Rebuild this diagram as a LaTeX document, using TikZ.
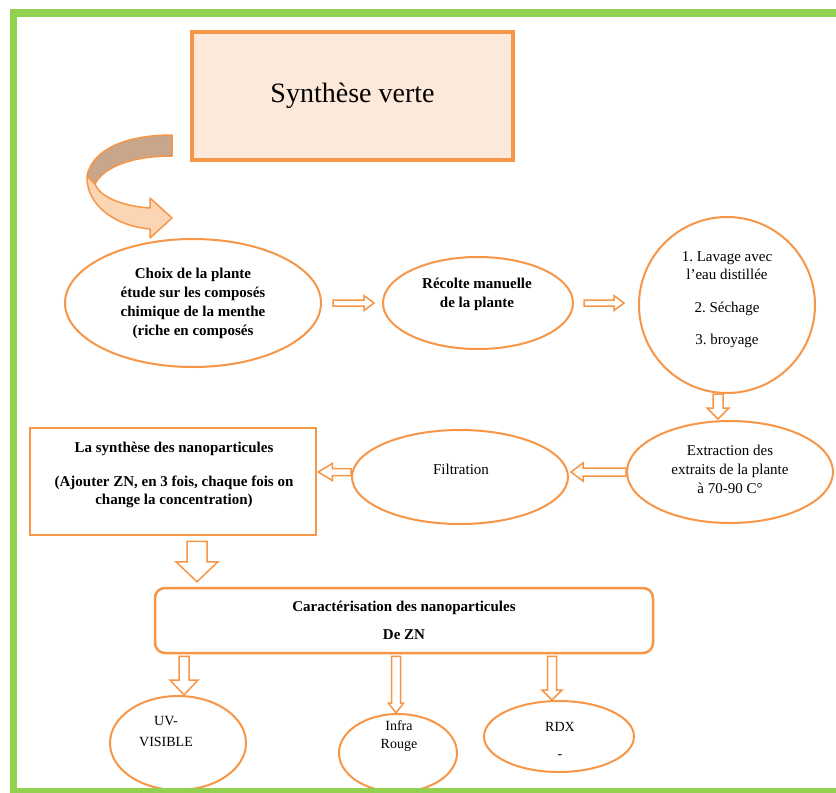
\documentclass[tikz,border=0pt]{standalone}
\usepackage{fontspec}
\setmainfont{Liberation Serif}
\usetikzlibrary{shapes.geometric,calc}
\definecolor{org}{HTML}{F79646}
\definecolor{grn}{HTML}{92D050}
\definecolor{peach}{HTML}{FDE9D9}
\definecolor{arrdark}{HTML}{C8A68B}
\definecolor{arrlight}{HTML}{FCD5B5}
\frenchspacing
\begin{document}
\begin{tikzpicture}[x=1pt,y=-1pt,
  ell/.style={ellipse, draw=org, line width=2pt, inner sep=0pt},
  bt/.style={font=\bfseries\fontsize{15}{19}\selectfont, align=center, inner sep=0pt},
  nt/.style={font=\fontsize{15}{19}\selectfont, align=center, inner sep=0pt},
  st/.style={font=\fontsize{14}{19}\selectfont, align=center, inner sep=0pt},
  blk/.style n args={3}{draw=org, line width=1.5pt, fill=white, line join=miter,
    to path={let \p1=(\tikztostart), \p2=(\tikztotarget),
      \n1={atan2(\y2-\y1,\x2-\x1)}, \n2={veclen(\x2-\x1,\y2-\y1)} in
      ([shift={(\p1)},rotate=\n1]0pt,#1pt) --
      ([shift={(\p1)},rotate=\n1]{\n2-#3pt},#1pt) --
      ([shift={(\p1)},rotate=\n1]{\n2-#3pt},#2pt) --
      (\p2) --
      ([shift={(\p1)},rotate=\n1]{\n2-#3pt},-#2pt) --
      ([shift={(\p1)},rotate=\n1]{\n2-#3pt},-#1pt) --
      ([shift={(\p1)},rotate=\n1]0pt,-#1pt) -- cycle}}
]
\useasboundingbox (0,0) rectangle (836,793);
\fill[white] (0,0) rectangle (836,793);

% title
\node[draw=org, line width=4pt, fill=peach, minimum width=321pt, minimum height=128pt,
      inner sep=0pt, font=\fontsize{28}{32}\selectfont] (title) at (352.5,96) {Synthèse verte};

% curved arrow
\filldraw[fill=arrdark, draw=org, line width=1.5pt, line join=round]
  (172,135) .. controls (125,135) and (92,150) .. (87,176) -- (95,184)
  .. controls (103,168) and (130,156) .. (172,156) -- cycle;
\filldraw[fill=arrlight, draw=org, line width=1.5pt, line join=round]
  (87,176) .. controls (86,205) and (115,226) .. (150,229) -- (150,238) -- (172,218)
  -- (150,198) -- (150,208) .. controls (122,206) and (100,197) .. (95,184) -- cycle;

% shapes
\node[ell, minimum width=256pt, minimum height=128pt] (c1) at (193,303) {};
\node[ell, minimum width=190pt, minimum height=92pt] (rec) at (478,303) {};
\node[ell, minimum width=176pt, minimum height=176pt] (circ) at (727,305) {};
\node[ell, minimum width=206pt, minimum height=102pt] (ext) at (730,472) {};
\node[ell, minimum width=216pt, minimum height=94pt] (filt) at (460,477) {};
\node[draw=org, line width=2.5pt, minimum width=286pt, minimum height=107pt, inner sep=0pt] (synth) at (173,481.5) {};
\node[draw=org, line width=2.5pt, rounded corners=10pt, minimum width=498pt, minimum height=65pt, inner sep=0pt] (car) at (404,620.5) {};
\node[ell, minimum width=136pt, minimum height=94pt] (uv) at (178,743) {};
\node[ell, minimum width=118pt, minimum height=78pt] (ir) at (398,753) {};
\node[ell, minimum width=150pt, minimum height=71pt] (rdx) at (559,736.5) {};

% texts
\node[bt] (c1t) at (193,303) {Choix de la plante\\étude sur les composés\\chimique de la menthe\\(riche en composés};
\node[bt] (rect) at (477,294) {Récolte manuelle\\de la plante};
\node[nt, font=\fontsize{15}{18}\selectfont] (circt) at (727,300) {1. Lavage avec\\l’eau distillée\\[15pt]2. Séchage\\[14pt]3. broyage};
\node[nt] (extt) at (730,469) {Extraction des\\extraits de la plante\\à 70-90 C°};
\node[nt] (filtt) at (461,469) {Filtration};
\node[bt, font=\bfseries\fontsize{15}{18}\selectfont] (synt) at (174,475) {La synthèse des nanoparticules\\[16pt](Ajouter ZN, en 3 fois, chaque fois on\\change la concentration)};
\node[bt, font=\bfseries\fontsize{15}{18}\selectfont] (cart) at (404,620) {Caractérisation des nanoparticules\\[10pt]De ZN};
\node[st, font=\fontsize{14}{21}\selectfont] (uvt) at (166,732) {UV-\\VISIBLE};
\node[st, font=\fontsize{14}{18}\selectfont] (irt) at (399,736) {Infra\\Rouge};
\node[st, font=\fontsize{14}{18}\selectfont] (rdxt) at (560,740) {RDX\\[9pt]-};

% arrows
\draw[blk={3}{7.5}{10}] ($(c1.east)+(11,0)$) to ($(rec.west)+(-8,0)$);
\draw[blk={3}{7.5}{10}] ($(rec.east)+(10,0)$) to ($(circ.west |- rec.east)+(-14,0)$);
\draw[blk={5}{11}{11}] ($(circ.south)+(-9,0)$) to ($(circ.south |- ext.north)+(-9,-1)$);
\draw[blk={4}{9}{12}] ($(ext.west)+(0,0)$) to ($(filt.east |- ext.west)+(2,0)$);
\draw[blk={3.5}{8.5}{14}] ($(filt.west)+(0,-5)$) to ($(synth.east |- filt.west)+(1,-5)$);
\draw[blk={10}{21}{20}] ($(synth.south)+(24,5)$) to ($(car.north -| synth.south)+(24,-5)$);
\draw[blk={5}{14}{15}] ($(car.south -| uv.north)+(6,2)$) to ($(uv.north)+(6,0)$);
\draw[blk={4.5}{7.5}{10}] ($(car.south -| ir.north)+(-2,2)$) to ($(ir.north)+(-2,0)$);
\draw[blk={4.5}{10}{10}] ($(car.south -| rdx.north)+(-7,2)$) to ($(rdx.north)+(-7,0)$);

% frame
\draw[grn, line width=7.5pt, line join=miter] (850,13) -- (13.5,13) -- (13.5,792) -- (850,792);
\end{tikzpicture}
\end{document}
